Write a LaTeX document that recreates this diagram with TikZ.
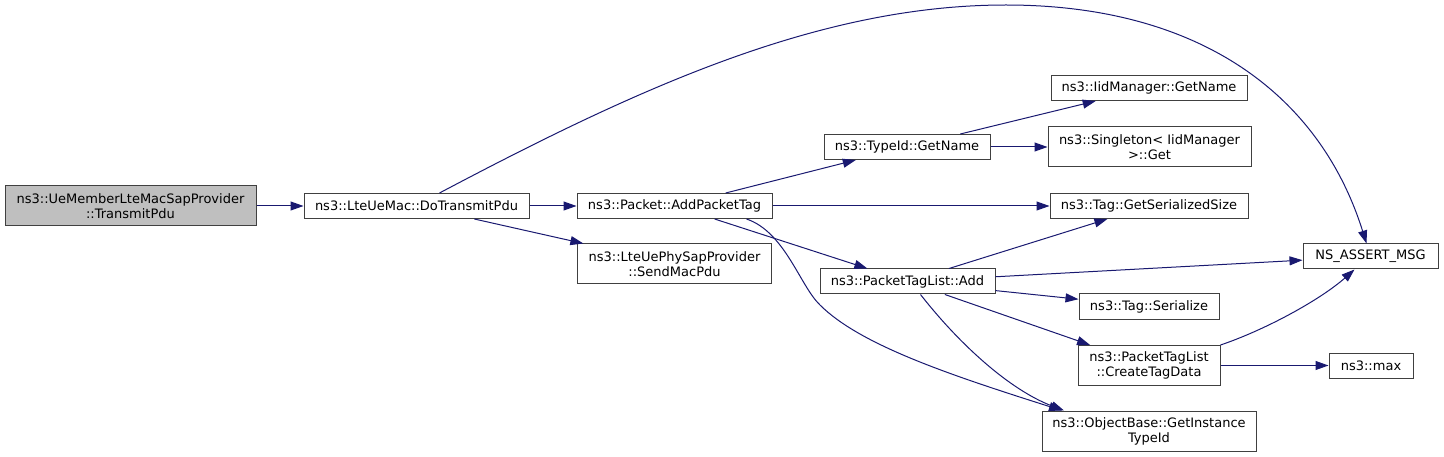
\documentclass[tikz,border=0pt]{standalone}
\usepackage{fontspec}
\setmainfont{DejaVu Sans}
\usetikzlibrary{arrows.meta, positioning, calc}
\definecolor{edgeblue}{RGB}{25,25,112}
\definecolor{boxline}{RGB}{64,64,64}
\definecolor{rootfill}{RGB}{191,191,191}
\tikzset{
  fn/.style={draw=boxline, line width=1pt, fill=white, inner sep=2pt, align=center,
    font=\fontsize{13}{15}\selectfont, minimum height=25pt},
  fn2/.style={fn, minimum height=40pt},
  call/.style={draw=edgeblue, line width=1pt, -{Triangle[length=13pt, width=9pt]}}
}

\begin{document}
\begin{tikzpicture}[x=1pt, y=-1pt]
  \useasboundingbox (0,0) rectangle (1444,457);

  \node[fn2, fill=rootfill, minimum width=251pt] (transmit) at (130.5,206) {ns3::UeMemberLteMacSapProvider\\::TransmitPdu};
  \node[fn, minimum width=225pt] (do_tx) at (416.5,206) {ns3::LteUeMac::DoTransmitPdu};

  \node[fn, minimum width=195pt] (add_tag) at (674.5,206) {ns3::Packet::AddPacketTag};
  \node[fn2, minimum width=194pt] (send_pdu) at (674.5,264) {ns3::LteUePhySapProvider\\::SendMacPdu};

  \node[fn, minimum width=166pt] (get_name) at (907,147) {ns3::TypeId::GetName};
  \node[fn, minimum width=175pt] (tl_add) at (907.5,281.5) {ns3::PacketTagList::Add};

  \node[fn, minimum width=196pt] (iid_name) at (1149,88) {ns3::IidManager::GetName};
  \node[fn2, minimum width=203pt] (singleton) at (1149.5,147) {ns3::Singleton< IidManager\\>::Get};
  \node[fn, minimum width=198pt] (ser_size) at (1149,206) {ns3::Tag::GetSerializedSize};
  \node[fn, minimum width=140pt] (serialize) at (1149,306.5) {ns3::Tag::Serialize};
  \node[fn2, minimum width=142pt] (create) at (1149,365.5) {ns3::PacketTagList\\::CreateTagData};
  \node[fn2, minimum width=214pt] (inst_tid) at (1149,431) {ns3::ObjectBase::GetInstance\\TypeId};

  \node[fn, minimum width=135pt] (assert_msg) at (1370.5,256.5) {NS\_ASSERT\_MSG};
  \node[fn, minimum width=84pt] (max) at (1371,365.5) {ns3::max};

  \draw[call] (transmit) -- (do_tx);
  \draw[call] (do_tx) -- (add_tag);
  \draw[call] (do_tx) -- (send_pdu);
  \draw[call] ($(do_tx.north)+(23,0)$) .. controls (640,87) and (820,5) .. (1006,5)
    .. controls (1200,5) and (1320,95) .. ($(assert_msg.north)+(-4,0)$);

  \draw[call] (add_tag) -- (get_name);
  \draw[call] (add_tag) -- (ser_size);
  \draw[call] (add_tag) -- (tl_add);
  \draw[call] ($(add_tag.south)+(72,0)$) .. controls (785,232) and (800,286) .. (820,305)
    .. controls (860,345) and (950,375) .. ($(inst_tid.north)+(-87,0)$);

  \draw[call] (get_name) -- (iid_name);
  \draw[call] (get_name) -- (singleton);

  \draw[call] (tl_add) -- (ser_size);
  \draw[call] (tl_add) -- (assert_msg);
  \draw[call] (tl_add) -- (serialize);
  \draw[call] (tl_add) -- (create);
  \draw[call] ($(tl_add.south)+(13,0)$) .. controls (960,345) and (1010,390) .. ($(inst_tid.north)+(-85,0)$);

  \draw[call] (create.north east) .. controls (1265,330) and (1320,300) .. ($(assert_msg.south)+(-16,0)$);
  \draw[call] (create) -- (max);
\end{tikzpicture}
\end{document}
